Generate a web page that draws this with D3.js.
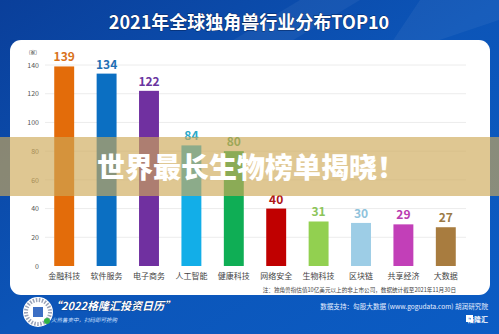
<!DOCTYPE html>
<html>
<head>
<meta charset="utf-8">
<script src="https://cdn.jsdelivr.net/npm/d3@7"></script>
<style>
  body { margin: 0; background: #fff; }
  svg { display: block; font-family: "Noto Sans CJK SC", "Noto Sans", sans-serif; }
</style>
</head>
<body>
<div id="chart"></div>
<script>
// datos
var categorias = ["金融科技", "软件服务", "电子商务", "人工智能", "健康科技", "网络安全", "生物科技", "区块链", "共享经济", "大数据"];
var valores = [139, 134, 122, 84, 80, 40, 31, 30, 29, 27];
var ticksY = [0, 20, 40, 60, 80, 100, 120, 140];

var colores = ["#e36c0a", "#0b6fc2", "#7030a0", "#12aee8", "#0fae55", "#c00000", "#92d050", "#9dcde6", "#c23fb8", "#a87c3f"];
var coloresTexto = ["#d9731c", "#1f6fb4", "#6a35a0", "#2aa9c9", "#3fa35a", "#b01515", "#8cc45a", "#8fc3dc", "#b93cb0", "#9c7a45"];

var width = 499, height = 334;

const svg = d3.select("#chart").append("svg")
  .attr("width", width)
  .attr("height", height);

// fondo azul
var defs = svg.append("defs");
var grad = defs.append("linearGradient").attr("id", "bg")
  .attr("x1", "0").attr("y1", "0").attr("x2", "1").attr("y2", "1");
grad.append("stop").attr("offset", "0").attr("stop-color", "#0a3f9a");
grad.append("stop").attr("offset", "0.5").attr("stop-color", "#0c55b8");
grad.append("stop").attr("offset", "1").attr("stop-color", "#0b5cc4");
svg.append("rect").attr("width", width).attr("height", height).attr("fill", "url(#bg)");
svg.append("path").attr("d", "M300,0 L360,0 L260,60 L200,60 Z").attr("fill", "#ffffff").attr("opacity", 0.05);
svg.append("path").attr("d", "M420,0 L499,0 L499,20 L380,60 Z").attr("fill", "#ffffff").attr("opacity", 0.05);

svg.append("text")
  .attr("x", 249).attr("y", 29)
  .attr("text-anchor", "middle")
  .attr("fill", "#fff")
  .attr("font-size", "18px")
  .attr("font-weight", "bold")
  .attr("stroke", "#06265e").attr("stroke-width", 0.8).attr("paint-order", "stroke")
  .text("2021年全球独角兽行业分布TOP10");

// panel blanco
svg.append("rect")
  .attr("x", 10).attr("y", 40).attr("width", 480).attr("height", 255)
  .attr("rx", 11).attr("fill", "#fff");

var margin = { left: 43, right: 32 };

const x = d3.scaleBand()
  .domain(categorias)
  .range([margin.left, width - margin.right])
  .paddingInner(0.53)
  .paddingOuter(0.265);

const y = d3.scaleLinear()
  .domain([0, 140])
  .range([266, 65]);

// grid
svg.append("g")
  .selectAll("line")
  .data(ticksY.slice(1))
  .join("line")
    .attr("x1", 45).attr("x2", 466)
    .attr("y1", d => y(d)).attr("y2", d => y(d))
    .attr("stroke", "#ececec").attr("stroke-width", 1);

function yAxis(g) {
  g.attr("transform", "translate(39,0)")
    .call(d3.axisLeft(y).tickValues(ticksY).tickSize(0).tickPadding(0))
    .attr("font-size", "7px")
    .attr("font-family", null);
  g.select(".domain").remove();
  g.selectAll("text").attr("fill", "#555");
}
svg.append("g").call(yAxis);

svg.append("text")
  .attr("x", 33).attr("y", 54)
  .attr("text-anchor", "middle")
  .attr("font-size", "5px")
  .attr("fill", "#555")
  .text("(家)");

// barras
svg.append("g")
  .selectAll("rect")
  .data(valores)
  .join("rect")
    .attr("x", (d, i) => x(categorias[i]))
    .attr("y", d => y(d))
    .attr("width", x.bandwidth())
    .attr("height", d => y(0) - y(d))
    .attr("fill", (d, i) => colores[i]);

svg.append("g")
  .selectAll("text")
  .data(valores)
  .join("text")
    .attr("x", (d, i) => x(categorias[i]) + x.bandwidth() / 2)
    .attr("y", d => y(d) - 5)
    .attr("text-anchor", "middle")
    .attr("font-size", "12px")
    .attr("font-weight", "bold")
    .attr("fill", (d, i) => coloresTexto[i])
    .text(d => d);

function xAxis(g) {
  g.attr("transform", "translate(0,266)")
    .call(d3.axisBottom(x).tickSize(0).tickPadding(7))
    .attr("font-size", "8px")
    .attr("font-family", null);
  g.select(".domain").remove();
  g.selectAll("text").attr("fill", "#444");
}
svg.append("g").call(xAxis);

svg.append("text")
  .attr("x", 456).attr("y", 292)
  .attr("text-anchor", "end")
  .attr("font-size", "5.6px")
  .attr("fill", "#444")
  .text("注：独角兽指估值10亿美元以上的非上市公司，数据统计截至2021年11月30日");

// banda superpuesta
svg.append("rect")
  .attr("x", 0).attr("y", 137).attr("width", width).attr("height", 59)
  .attr("fill", "rgb(206,169,88)").attr("opacity", 0.65);

svg.append("text")
  .attr("x", 251).attr("y", 178)
  .attr("text-anchor", "middle")
  .attr("fill", "#fff")
  .attr("font-size", "28px")
  .attr("font-weight", 900)
  .text("世界最长生物榜单揭晓！");

// pie
svg.append("circle").attr("cx", 38).attr("cy", 312).attr("r", 15).attr("fill", "#fff");
svg.append("circle").attr("cx", 38).attr("cy", 312).attr("r", 12).attr("fill", "none")
  .attr("stroke", "#9aa3b8").attr("stroke-width", 4).attr("stroke-dasharray", "1.5 1.5");
svg.append("rect").attr("x", 33).attr("y", 307).attr("width", 10).attr("height", 10).attr("fill", "#3d6fc4");
svg.append("circle").attr("cx", 47).attr("cy", 321).attr("r", 3).attr("fill", "#2fb344");

svg.append("text")
  .attr("x", 50).attr("y", 310)
  .attr("fill", "#fff")
  .attr("font-size", "11px")
  .attr("font-weight", "bold")
  .attr("font-style", "italic")
  .attr("stroke", "#0a2f70").attr("stroke-width", 0.6).attr("paint-order", "stroke")
  .text("“2022格隆汇投资日历”");

svg.append("text")
  .attr("x", 51).attr("y", 322)
  .attr("fill", "#cfe0ff")
  .attr("font-size", "5.5px")
  .attr("font-style", "italic")
  .text("火热售卖中，扫码即可抢购");

svg.append("text")
  .attr("x", 488).attr("y", 309)
  .attr("text-anchor", "end")
  .attr("fill", "#e6eeff")
  .attr("font-size", "6.6px")
  .text("数据支持：勾股大数据 (www.gogudata.com) 胡润研究院");

svg.append("rect").attr("x", 466).attr("y", 315).attr("width", 7).attr("height", 7).attr("fill", "#fff");
svg.append("rect").attr("x", 468).attr("y", 317).attr("width", 3).attr("height", 3).attr("fill", "#0b5cc4");
svg.append("text")
  .attr("x", 488).attr("y", 322)
  .attr("text-anchor", "end")
  .attr("fill", "#fff")
  .attr("font-size", "7px")
  .attr("font-weight", "bold")
  .text("格隆汇");
</script>
</body>
</html>
